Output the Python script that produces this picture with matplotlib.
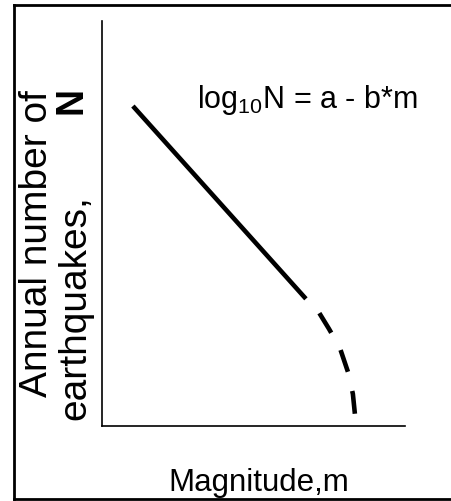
import matplotlib
matplotlib.use("Agg")
import matplotlib.pyplot as plt
from matplotlib.lines import Line2D

# ---- data (arbitrary linear units) ----
magnitude_solid = [1.02, 6.73]
logN_solid = [7.90, 3.14]
magnitude_dashed = [6.73, 7.13, 7.49, 7.85, 8.12, 8.28, 8.38]
logN_dashed = [3.14, 2.84, 2.40, 1.93, 1.33, 0.79, 0.05]

equation = "log$_{10}$N = a - b*m"
xlabel = "Magnitude,m"
ylabel_line1 = "Annual number of"
ylabel_line2 = "earthquakes,"
ylabel_sym = "N"

# ---- fonts ----
font = "Liberation Sans"
plt.rcParams["mathtext.fontset"] = "custom"
plt.rcParams["mathtext.rm"] = font
plt.rcParams["mathtext.it"] = font
plt.rcParams["mathtext.bf"] = font + ":bold"

W, H = 451, 502
fig = plt.figure(figsize=(W / 100, H / 100), dpi=100)


def fx(px):
    return px / W


def fy(py):
    return (H - py) / H


ax = fig.add_axes([fx(102), fy(427), fx(405) - fx(102), fy(22) - fy(427)])
ax.set_xlim(0, 10)
ax.set_ylim(0, 10)
for s in ("top", "right"):
    ax.spines[s].set_visible(False)
for s in ("left", "bottom"):
    ax.spines[s].set_linewidth(1.2)
ax.set_xticks([])
ax.set_yticks([])
ax.patch.set_alpha(0)

ax.plot(magnitude_solid, logN_solid, color="black", lw=3.3,
        solid_capstyle="butt")
ax.plot(magnitude_dashed, logN_dashed, color="black", lw=3.3,
        linestyle=(5.0, (5.0, 4.3)), dash_capstyle="butt")

# ---- outer frame ----
frame_kw = dict(color="black", lw=2.0, transform=fig.transFigure)
fig.add_artist(Line2D([fx(14), fx(14)], [fy(6), fy(500)], **frame_kw))
fig.add_artist(Line2D([fx(14), fx(451)], [fy(6), fy(6)], **frame_kw))
fig.add_artist(Line2D([fx(14), fx(451)], [fy(500), fy(500)], **frame_kw))

# ---- texts ----
fig.text(fx(307), fy(108), equation, family=font, fontsize=22,
         ha="center", va="baseline")
fig.text(fx(259), fy(491), xlabel, family=font, fontsize=22.5,
         ha="center", va="baseline")

fig.text(fx(37), fy(244), ylabel_line1, family=font,
         fontsize=28, rotation=90, ha="center", va="center")
fig.text(fx(75), fy(420), ylabel_line2, family=font,
         fontsize=28, rotation=90, ha="center", va="bottom")
fig.text(fx(71), fy(100), ylabel_sym, family=font,
         fontweight="bold", fontsize=27, rotation=90, ha="center", va="center")

fig.savefig("out.png", dpi=100)
